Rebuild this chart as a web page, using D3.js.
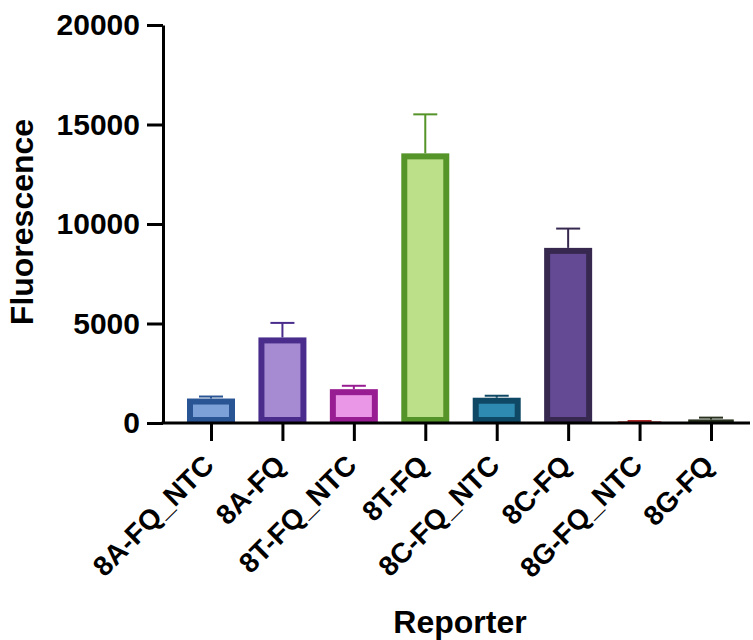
<!DOCTYPE html>
<html>
<head>
<meta charset="utf-8">
<script src="https://cdn.jsdelivr.net/npm/d3@7"></script>
<style>
  html, body { margin: 0; padding: 0; background: #fff; }
  svg { display: block; font-family: "Liberation Sans", Arial, sans-serif; }
</style>
</head>
<body>
<svg id="chart" width="753" height="640"></svg>
<script>
// Reporter groups, mean fluorescence and error (upper bar only)
const categories = ["8A-FQ_NTC", "8A-FQ", "8T-FQ_NTC", "8T-FQ", "8C-FQ_NTC", "8C-FQ", "8G-FQ_NTC", "8G-FQ"];
const means = [1230, 4300, 1700, 13550, 1270, 8800, 80, 180];
const errors = [100, 730, 170, 1960, 100, 970, 20, 90];
const fills = ["#7ba1d8", "#a68bd3", "#ea97e7", "#bcdf8a", "#2e8ab0", "#644a94", "#c23a3a", "#3b4a30"];
const strokes = ["#2a5594", "#4a2c8c", "#981c92", "#559428", "#0f4864", "#36284f", "#b02828", "#28321f"];
const yTicks = [0, 5000, 10000, 15000, 20000];

const svg = d3.select("#chart");

const x = d3.scalePoint().domain(categories).range([211, 711]);
const y = d3.scaleLinear().domain([0, 20000]).range([423, 25]);

const barW = 48, border = 6, capW = 24;

// bars with thick outlines (outer edge sits at the value)
const bars = svg.append("g");
categories.forEach((c, i) => {
  const top = y(means[i]);
  const h = y(0) - top;
  const g = bars.append("g");
  g.append("rect")
    .attr("x", x(c) - barW / 2 + border / 2)
    .attr("y", top + Math.min(border / 2, h / 2))
    .attr("width", barW - border)
    .attr("height", Math.max(h - border, 0.1))
    .attr("fill", fills[i])
    .attr("stroke", strokes[i])
    .attr("stroke-width", Math.min(border, h));
  // upper error bar
  const ey = y(means[i] + errors[i]);
  g.append("line")
    .attr("x1", x(c)).attr("x2", x(c))
    .attr("y1", top).attr("y2", ey)
    .attr("stroke", strokes[i]).attr("stroke-width", 2);
  g.append("line")
    .attr("x1", x(c) - capW / 2).attr("x2", x(c) + capW / 2)
    .attr("y1", ey).attr("y2", ey)
    .attr("stroke", strokes[i]).attr("stroke-width", 2);
});

// y axis
const yAxis = svg.append("g")
  .attr("transform", "translate(163,0)")
  .call(d3.axisLeft(y).tickValues(yTicks).tickFormat(d3.format("d")).tickSize(16).tickSizeOuter(0).tickPadding(7));
yAxis.select(".domain").attr("stroke", "#000").attr("stroke-width", 3);
yAxis.selectAll(".tick line").attr("stroke", "#000").attr("stroke-width", 3);
yAxis.selectAll(".tick text")
  .attr("fill", "#000")
  .style("font-size", "30px")
  .style("font-weight", "bold")
  .style("font-family", "'Liberation Sans', Arial, sans-serif");

// x axis baseline
svg.append("line")
  .attr("x1", 161.5).attr("x2", 750)
  .attr("y1", y(0)).attr("y2", y(0))
  .attr("stroke", "#000").attr("stroke-width", 3);

const xAxis = svg.append("g")
  .attr("transform", `translate(0,${y(0)})`)
  .call(d3.axisBottom(x).tickSize(18).tickSizeOuter(0));
xAxis.select(".domain").remove();
xAxis.selectAll(".tick line").attr("stroke", "#000").attr("stroke-width", 3);
xAxis.selectAll(".tick text")
  .attr("fill", "#000")
  .attr("text-anchor", "end")
  .attr("x", 0).attr("y", 0).attr("dy", 0)
  .attr("transform", "translate(4,44) rotate(-45)")
  .style("font-size", "28px")
  .style("font-weight", "bold")
  .style("font-family", "'Liberation Sans', Arial, sans-serif");

// axis titles
svg.append("text")
  .attr("transform", "translate(33,222) rotate(-90)")
  .attr("text-anchor", "middle")
  .style("font-size", "32px").style("font-weight", "bold")
  .text("Fluorescence");

svg.append("text")
  .attr("x", 460).attr("y", 633)
  .attr("text-anchor", "middle")
  .style("font-size", "32px").style("font-weight", "bold")
  .text("Reporter");
</script>
</body>
</html>
